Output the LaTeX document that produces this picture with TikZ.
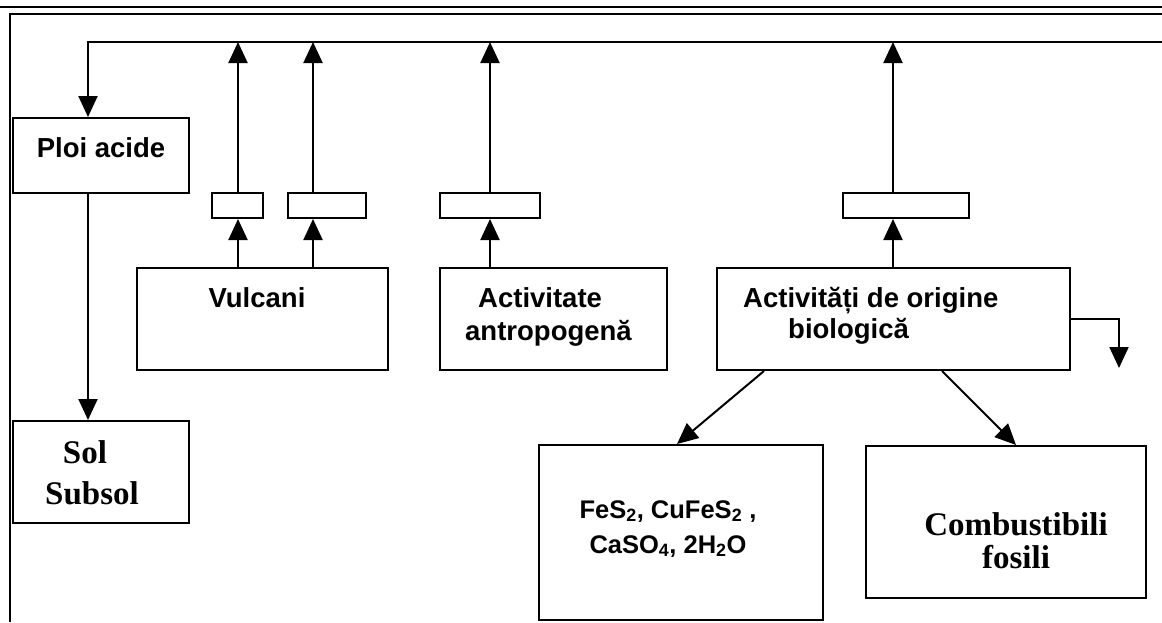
\documentclass[tikz,border=0pt]{standalone}
\usepackage{fontspec}
\setmainfont{Liberation Serif}
\newfontfamily\arialf{Liberation Sans}
\usetikzlibrary{arrows.meta,calc}
\begin{document}
\begin{tikzpicture}[x=1pt,y=-1pt,
  box/.style={draw, line width=2pt, inner sep=0pt, fill=white},
  arr/.style={line width=2pt, -{Triangle[length=21pt,width=19pt]}},
  frameline/.style={line width=2.2pt},
  sanstext/.style={font=\arialf\bfseries\fontsize{27.5}{30}\selectfont, inner sep=0pt},
  chemtext/.style={font=\arialf\bfseries\fontsize{25.5}{30}\selectfont, inner sep=0pt},
  seriftext/.style={font=\bfseries\fontsize{33}{36}\selectfont, inner sep=0pt}]
\useasboundingbox (0,0) rectangle (1162,622);
% frame
\coordinate (tl0) at (0,7);
\coordinate (tr0) at (1162,7);
\coordinate (ftl) at (10,14);
\coordinate (ftr) at (1162,14);
\coordinate (fbl) at (10,622);
\draw[line width=1.6pt] (tl0) -- (tr0);
\draw[frameline] (ftr) -- (ftl) -- (fbl);
% boxes
\node[box, minimum width=176pt, minimum height=75pt] (ploi) at (101,155.5) {};
\node[box, minimum width=176pt, minimum height=102pt] (sol) at (101,472) {};
\node[box, minimum width=51pt, minimum height=25pt] (s1) at (237.5,205.5) {};
\node[box, minimum width=78pt, minimum height=25pt] (s2) at (327,205.5) {};
\node[box, minimum width=100pt, minimum height=25pt] (s3) at (490,205.5) {};
\node[box, minimum width=126pt, minimum height=25pt] (s4) at (906,205.5) {};
\node[box, minimum width=251pt, minimum height=102pt] (vul) at (262.5,319) {};
\node[box, minimum width=227pt, minimum height=102pt] (ant) at (553.5,319) {};
\node[box, minimum width=353pt, minimum height=102pt] (bio) at (893.5,319) {};
\node[box, minimum width=284pt, minimum height=175pt] (fes) at (681,532.5) {};
\node[box, minimum width=280pt, minimum height=152pt] (comb) at (1006,522) {};
% texts
\node[sanstext, anchor=base] (tploi) at (101,157) {Ploi acide};
\node[seriftext, anchor=base] (tsol) at (85,463) {Sol};
\node[seriftext, anchor=base] (tsub) at (92,504) {Subsol};
\node[sanstext, anchor=base] (tvul) at (257,307) {Vulcani};
\node[sanstext, anchor=base west] (tant1) at (478,307) {Activitate};
\node[sanstext, anchor=base west] (tant2) at (465,340) {antropogenă};
\node[sanstext, anchor=base west] (tbio1) at (743,307) {Activități de origine};
\node[sanstext, anchor=base west] (tbio2) at (788,338) {biologică};
\node[chemtext, anchor=base] (tfes1) at (668,518) {FeS\textsubscript{2}, CuFeS\textsubscript{2} ,};
\node[chemtext, anchor=base] (tfes2) at (668,553) {CaSO\textsubscript{4}, 2H\textsubscript{2}O};
\node[seriftext, anchor=base] (tcomb1) at (1016,535) {Combustibili};
\node[seriftext, anchor=base] (tcomb2) at (1016,568) {fosili};
% bus
\coordinate (busL) at (88,42);
\coordinate (busR) at (1162,42);
\coordinate (xa) at (238,0);
\coordinate (xb) at (313,0);
\coordinate (xc) at (490,0);
\coordinate (xd) at (893,0);
\draw[arr] (busR) -- (busL) -- (busL |- ploi.north);
\draw[arr] (ploi.south -| busL) -- (sol.north -| busL);
% up arrows
\draw[arr] (xa |- vul.north) -- (xa |- s1.south);
\draw[arr] (xa |- s1.north) -- (xa |- busL);
\draw[arr] (xb |- vul.north) -- (xb |- s2.south);
\draw[arr] (xb |- s2.north) -- (xb |- busL);
\draw[arr] (xc |- ant.north) -- (xc |- s3.south);
\draw[arr] (xc |- s3.north) -- (xc |- busL);
\draw[arr] (xd |- bio.north) -- (xd |- s4.south);
\draw[arr] (xd |- s4.north) -- (xd |- busL);
% side arrow
\coordinate (sidec) at (1119,319);
\coordinate (sidetip) at (1119,368);
\draw[arr] (bio.east) -- (sidec) -- (sidetip);
% diagonals
\draw[arr] ([xshift=48pt]bio.south west) -- ([xshift=139pt]fes.north west);
\draw[arr] ([xshift=226pt]bio.south west) -- ([xshift=151pt]comb.north west);
\end{tikzpicture}
\end{document}
